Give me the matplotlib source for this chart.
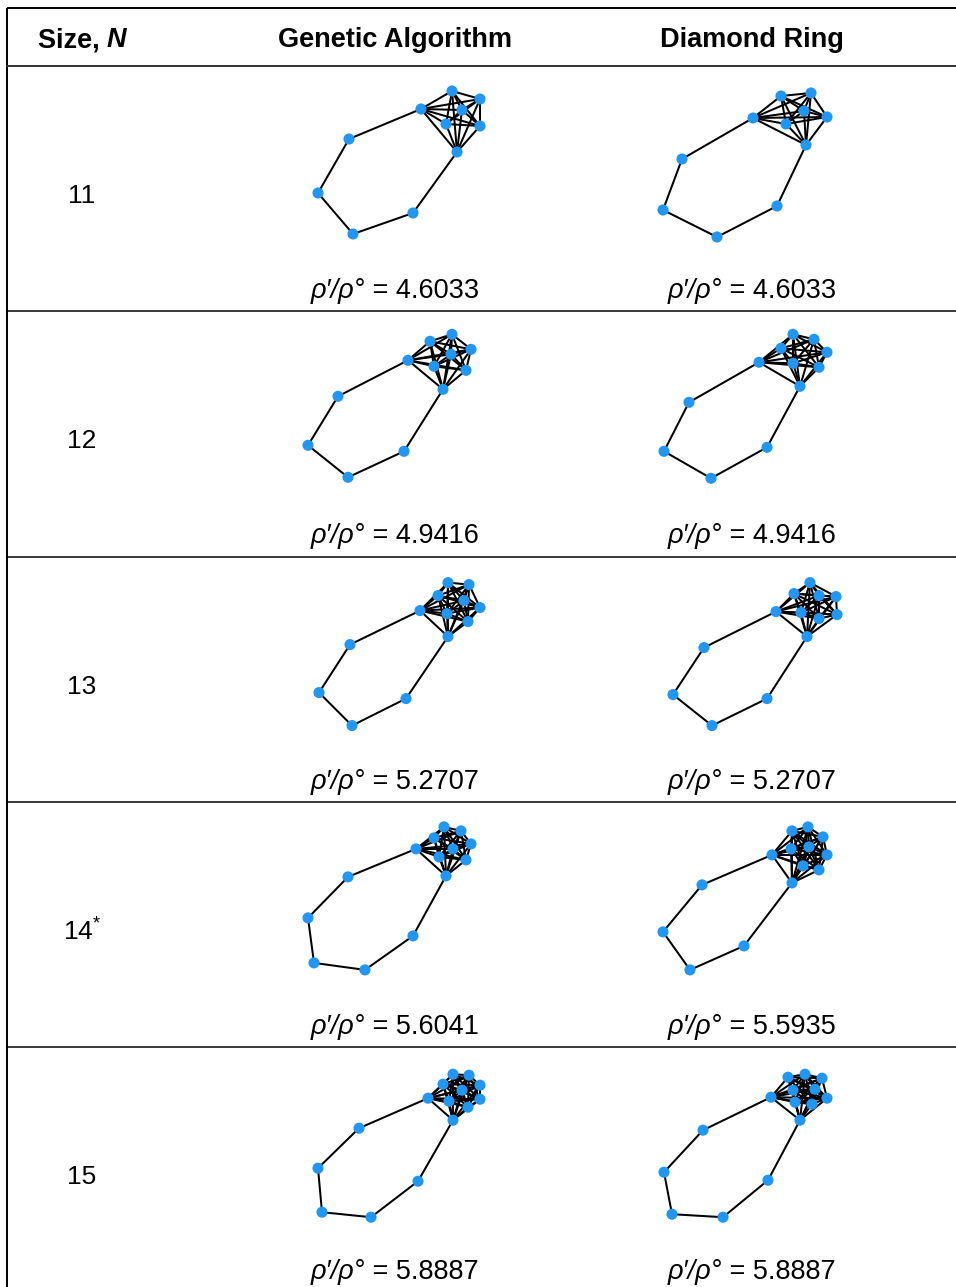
import matplotlib
matplotlib.use("Agg")
import matplotlib.pyplot as plt
from matplotlib.collections import LineCollection
from itertools import combinations

plt.rcParams["font.family"] = ["Liberation Sans", "DejaVu Sans"]
plt.rcParams["mathtext.fontset"] = "custom"
plt.rcParams["mathtext.rm"] = "Liberation Sans"
plt.rcParams["mathtext.it"] = "Liberation Sans:italic"

# ---- table content -------------------------------------------------------
columns = ["Size, ", "Genetic Algorithm", "Diamond Ring"]
sizes = ["11", "12", "13", "14", "15"]
size_marks = ["", "", "", "*", ""]
ga_ratio = [4.6033, 4.9416, 5.2707, 5.6041, 5.8887]
dr_ratio = [4.6033, 4.9416, 5.2707, 5.5935, 5.8887]
ga_symbol = ["ρ′/ρ°", "ρ′/ρ°", "ρ′/ρ°", "ρ′/ρ°", "ρ′/ρ°"]
dr_symbol = ["ρ′/ρ°", "ρ′/ρ°", "ρ′/ρ°", "ρ'/ρ°", "ρ′/ρ°"]

# ---- network layouts: a fully connected core plus a chain of ring nodes ----
# The chain runs from the first core node through the ring nodes to the last core node.
ga11_core = [(131, 43), (162, 25), (190, 33), (172, 44), (156, 58), (190, 60), (167, 86)]
ga11_ring = [(59, 73), (28, 127), (63, 168), (123, 147)]
dr11_core = [(113, 52), (141, 30), (171, 27), (164, 45), (146, 58), (187, 51), (166, 79)]
dr11_ring = [(42, 93), (23, 144), (77, 171), (137, 140)]

ga12_core = [(118, 49), (140, 30), (162, 23), (181, 38), (161, 43), (144, 55), (176, 59), (153, 78)]
ga12_ring = [(48, 85), (18, 134), (58, 166), (114, 140)]
dr12_core = [(119, 51), (141, 37), (153, 23), (174, 28), (187, 41), (153, 52), (179, 56), (160, 75)]
dr12_ring = [(49, 91), (24, 140), (71, 167), (127, 136)]

ga13_core = [(130, 54), (158, 26), (179, 28), (148, 39), (174, 44), (190, 51), (157, 57), (178, 65), (158, 80)]
ga13_ring = [(60, 88), (29, 136), (62, 169), (116, 142)]
dr13_core = [(136, 55), (170, 26), (154, 37), (179, 39), (196, 40), (161, 56), (179, 62), (197, 58), (167, 80)]
dr13_ring = [(64, 91), (33, 138), (72, 169), (127, 142)]

ga14_core = [(126, 47), (154, 25), (171, 29), (144, 36), (181, 42), (163, 47), (149, 55), (176, 58), (156, 74)]
ga14_ring = [(58, 75), (18, 116), (24, 161), (75, 168), (123, 134)]
dr14_core = [(132, 53), (152, 29), (168, 25), (183, 35), (151, 47), (169, 45), (187, 53), (163, 64), (179, 68), (152, 81)]
dr14_ring = [(62, 83), (23, 130), (50, 168), (104, 144)]

ga15_core = [(138, 51), (163, 27), (179, 28), (153, 37), (190, 38), (172, 43), (159, 54), (190, 52), (178, 60), (163, 73)]
ga15_ring = [(69, 81), (28, 121), (32, 165), (81, 170), (128, 134)]
dr15_core = [(131, 50), (148, 30), (165, 27), (182, 31), (153, 43), (175, 42), (187, 51), (155, 55), (172, 57), (160, 73)]
dr15_ring = [(63, 83), (24, 125), (32, 167), (83, 170), (128, 133)]

ga_graphs = [(ga11_core, ga11_ring), (ga12_core, ga12_ring), (ga13_core, ga13_ring),
             (ga14_core, ga14_ring), (ga15_core, ga15_ring)]
dr_graphs = [(dr11_core, dr11_ring), (dr12_core, dr12_ring), (dr13_core, dr13_ring),
             (dr14_core, dr14_ring), (dr15_core, dr15_ring)]

# ---- geometry ------------------------------------------------------------
W, H = 956, 1287
DPI = 100
header_top, header_bottom = 8, 66
row_h = 245.3
left_edge = 7
col_centers = [82, 395, 752]
graph_left = [290, 640]
box_w, box_h = 220, 200
node_color = "#2196f3"

fig = plt.figure(figsize=(W / DPI, H / DPI), dpi=DPI)
tab = fig.add_axes([0, 0, 1, 1])
tab.set_xlim(0, W)
tab.set_ylim(H, 0)
tab.axis("off")
renderer = fig.canvas.get_renderer()


def rich_text(x, y, parts, size):
    """Place a run of differently styled strings centred on x."""
    arts = [tab.text(0, y, s, fontsize=size, va="center", ha="left", **style)
            for s, style in parts]
    widths = [a.get_window_extent(renderer).width for a in arts]
    x0 = x - sum(widths) / 2
    for a, w in zip(arts, widths):
        a.set_x(x0)
        x0 += w
    return arts


# table rules
line_kw = dict(color="black", lw=1.4, solid_capstyle="butt")
tab.plot([left_edge, W], [header_top, header_top], **line_kw)
tab.plot([left_edge, left_edge], [header_top, H], **line_kw)
tab.plot([left_edge, W], [header_bottom, header_bottom], color="#333333", lw=1.4)
for i in range(1, len(sizes)):
    yy = header_bottom + i * row_h
    tab.plot([left_edge, W], [yy, yy], color="black", lw=1.1)

# header
hy = 40
rich_text(col_centers[0], hy, [(columns[0], dict(fontweight="bold")),
                               ("N", dict(fontweight="bold", fontstyle="italic"))], 19.5)
tab.text(col_centers[1], hy, columns[1], fontsize=19.5, fontweight="bold", ha="center", va="center")
tab.text(col_centers[2], hy, columns[2], fontsize=19.5, fontweight="bold", ha="center", va="center")


def draw_graph(ax, core, ring):
    edges = [(a, b) for a, b in combinations(core, 2)]
    chain = [core[0]] + list(ring) + [core[-1]]
    edges += list(zip(chain[:-1], chain[1:]))
    ax.add_collection(LineCollection(edges, colors="black", linewidths=1.45, zorder=1))
    pts = list(core) + list(ring)
    ax.scatter([p[0] for p in pts], [p[1] for p in pts], s=64, c=node_color,
               edgecolors="none", zorder=2)


for i, n in enumerate(sizes):
    top = header_bottom + i * row_h
    # size label
    label = n + (r"$^{%s}$" % size_marks[i] if size_marks[i] else "")
    tab.text(col_centers[0], top + 130, label, fontsize=19, ha="center", va="center")

    for j, (graph, ratio, sym) in enumerate(((ga_graphs[i], ga_ratio[i], ga_symbol[i]),
                                             (dr_graphs[i], dr_ratio[i], dr_symbol[i]))):
        gx = graph_left[j]
        ax = fig.add_axes([gx / W, 1 - (top + box_h) / H, box_w / W, box_h / H])
        ax.set_xlim(0, box_w)
        ax.set_ylim(box_h, 0)
        ax.axis("off")
        draw_graph(ax, *graph)
        rich_text(col_centers[j + 1], top + 225,
                  [(sym, dict(fontstyle="italic")), (" = %.4f" % ratio, {})], 19.5)

fig.savefig("out.png", dpi=DPI)
